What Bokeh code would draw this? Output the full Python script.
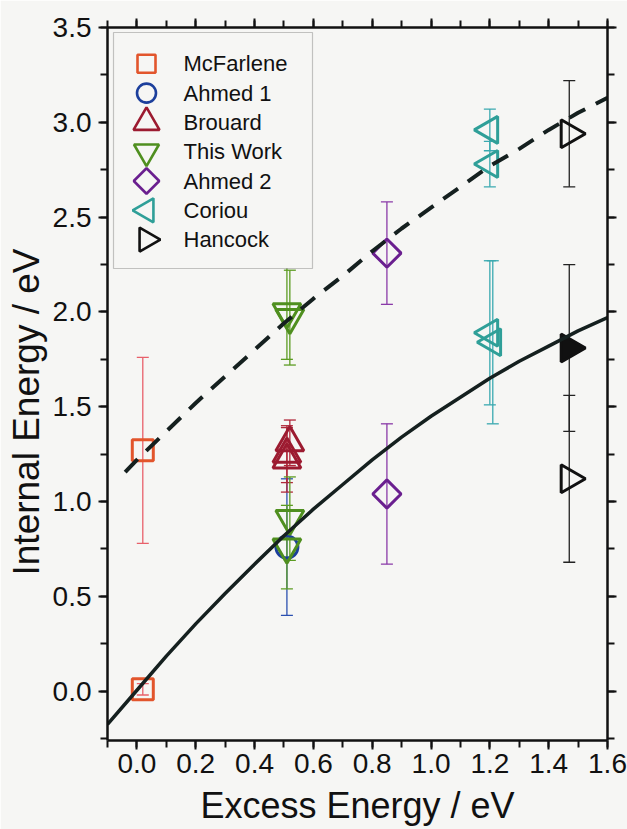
import numpy as np
from bokeh.plotting import figure
from bokeh.models import (ColumnDataSource, Whisker, TeeHead, LinearAxis, Range1d,
                          FixedTicker, BoxAnnotation, Title)
from bokeh.core.properties import value
from bokeh.embed import file_html
from bokeh.resources import INLINE

# ---------------- data ----------------
series_names = ["McFarlene", "Ahmed 1", "Brouard", "This Work", "Ahmed 2", "Coriou", "Hancock"]

mcfarlene_x = [0.02, 0.02]
mcfarlene_y = [1.27, 0.01]
mcfarlene_err = [0.49, 0.03]

ahmed1_x = [0.51]
ahmed1_y = [0.76]
ahmed1_err = [0.36]

brouard_x = [0.52, 0.51, 0.51]
brouard_y = [1.31, 1.25, 1.22]
brouard_err = [0.12, 0.15, 0.17]

thiswork_x = [0.51, 0.52, 0.52, 0.51]
thiswork_y = [2.00, 1.97, 0.91, 0.76]
thiswork_err = [0.25, 0.25, 0.22, 0.22]

ahmed2_x = [0.85, 0.85]
ahmed2_y = [2.31, 1.04]
ahmed2_err = [0.27, 0.37]

coriou_x = [1.20, 1.20, 1.20, 1.21]
coriou_y = [2.96, 2.78, 1.89, 1.84]
coriou_err = [0.11, 0.12, 0.38, 0.43]

hancock_x = [1.47, 1.47, 1.47]
hancock_y = [2.94, 1.81, 1.12]
hancock_err = [0.28, 0.44, 0.44]
hancock_filled = [0, 1, 0]

fit_solid_x = [-0.1, 0.0, 0.1, 0.2, 0.3, 0.4, 0.5, 0.6, 0.7, 0.8, 0.9, 1.0, 1.1, 1.2, 1.3, 1.4, 1.5, 1.6]
fit_solid_y = [-0.175, 0.005, 0.185, 0.355, 0.515, 0.67, 0.82, 0.96, 1.09, 1.22, 1.34, 1.45, 1.55, 1.65, 1.74, 1.82, 1.90, 1.97]

fit_dashed_x = [-0.04, 0.0, 0.1, 0.2, 0.3, 0.4, 0.5, 0.6, 0.7, 0.8, 0.9, 1.0, 1.1, 1.2, 1.3, 1.4, 1.5, 1.6]
fit_dashed_y = [1.155, 1.22, 1.37, 1.52, 1.66, 1.80, 1.94, 2.07, 2.19, 2.32, 2.44, 2.55, 2.66, 2.77, 2.86, 2.96, 3.05, 3.13]

x_ticks = [0.0, 0.2, 0.4, 0.6, 0.8, 1.0, 1.2, 1.4, 1.6]
x_tick_labels = ["0.0", "0.2", "0.4", "0.6", "0.8", "1.0", "1.2", "1.4", "1.6"]
x_minor = [-0.1, 0.0, 0.1, 0.2, 0.3, 0.4, 0.5, 0.6, 0.7, 0.8, 0.9, 1.0, 1.1, 1.2, 1.3, 1.4, 1.5, 1.6]
y_ticks = [0.0, 0.5, 1.0, 1.5, 2.0, 2.5, 3.0, 3.5]
y_tick_labels = ["0.0", "0.5", "1.0", "1.5", "2.0", "2.5", "3.0", "3.5"]
y_minor = [-0.25, 0.0, 0.25, 0.5, 0.75, 1.0, 1.25, 1.5, 1.75, 2.0, 2.25, 2.5, 2.75, 3.0, 3.25, 3.5]

x_title = "Excess Energy / eV"
y_title = "Internal Energy / eV"

# ---------------- layout / style ----------------
W, H = 627, 829
FRAME_L, FRAME_T, FRAME_R, FRAME_B = 107, 27, 607, 740
X0, X1, Y0, Y1 = -0.1, 1.6, -0.26, 3.5
BG = "#f6f6f4"
FONT = "Liberation Sans"

def px2x(px):
    return X0 + (px - FRAME_L) / (FRAME_R - FRAME_L) * (X1 - X0)

def py2y(py):
    return Y1 - (py - FRAME_T) / (FRAME_B - FRAME_T) * (Y1 - Y0)

p = figure(width=W, height=H, x_range=Range1d(X0, X1), y_range=Range1d(Y0, Y1),
           output_backend="svg", toolbar_location=None,
           min_border_left=FRAME_L, min_border_right=W - FRAME_R,
           min_border_top=FRAME_T, min_border_bottom=H - FRAME_B)
p.background_fill_color = BG
p.border_fill_color = BG
p.outline_line_color = None
p.xgrid.visible = False
p.ygrid.visible = False

xt = FixedTicker(ticks=x_ticks, minor_ticks=x_minor)
yt = FixedTicker(ticks=y_ticks, minor_ticks=y_minor)

def style_axis(ax, show_labels):
    ax.axis_line_width = 2.5
    ax.axis_line_color = "#111111"
    ax.major_tick_line_width = 2
    ax.minor_tick_line_width = 2
    ax.major_tick_line_color = "#111111"
    ax.minor_tick_line_color = "#111111"
    ax.major_tick_in = 0
    ax.major_tick_out = 9
    ax.minor_tick_in = 0
    ax.minor_tick_out = 7
    if show_labels:
        ax.major_label_text_font = FONT
        ax.major_label_text_font_size = "28px"
        ax.major_label_text_color = "#111111"
        ax.axis_label_text_font = FONT
        ax.axis_label_text_font_style = "normal"
        ax.axis_label_text_color = "#111111"
    else:
        ax.major_label_text_font_size = "0px"
        ax.major_label_text_color = None

xa = p.xaxis[0]
xa.ticker = xt
xa.major_label_overrides = {t: l for t, l in zip(x_ticks, x_tick_labels)}
xa.axis_label = x_title
style_axis(xa, True)
xa.axis_label_text_font_size = "36px"
xa.major_label_standoff = 4
xa.axis_label_standoff = 9

ya = p.yaxis[0]
ya.ticker = yt
ya.major_label_overrides = {t: l for t, l in zip(y_ticks, y_tick_labels)}
style_axis(ya, True)
ya.major_label_standoff = 7

top = LinearAxis(ticker=xt)
style_axis(top, False)
p.add_layout(top, "above")
right = LinearAxis(ticker=yt)
style_axis(right, False)
p.add_layout(right, "right")

# y-axis title: a side title, started a little above the frame bottom as in the original
p.add_layout(Title(text=y_title, align="left", offset=165, standoff=5,
                   text_font=FONT, text_font_size="37px", text_font_style="normal",
                   text_color="#111111"), "left")

# ---------------- series ----------------
series = [
    dict(name="McFarlene", x=mcfarlene_x, y=mcfarlene_y, e=mcfarlene_err, marker="square", angle=0.0,
         size=21, lsize=18, color="#e2552c", ecolor="#e8606a", fill=[0] * len(mcfarlene_x)),
    dict(name="Ahmed 1", x=ahmed1_x, y=ahmed1_y, e=ahmed1_err, marker="circle", angle=0.0,
         size=22, lsize=19, color="#1c3f9c", ecolor="#2a4fb0", fill=[0]),
    dict(name="Brouard", x=brouard_x, y=brouard_y, e=brouard_err, marker="triangle", angle=0.0,
         size=28, lsize=26, color="#9c1b30", ecolor="#b0283a", fill=[0] * len(brouard_x)),
    dict(name="This Work", x=thiswork_x, y=thiswork_y, e=thiswork_err, marker="inverted_triangle", angle=0.0,
         size=28, lsize=25, color="#4f8f1f", ecolor="#5c9c22", fill=[0] * len(thiswork_x)),
    dict(name="Ahmed 2", x=ahmed2_x, y=ahmed2_y, e=ahmed2_err, marker="square", angle=np.pi / 4,
         size=20, lsize=18, color="#6a1f8f", ecolor="#8a3aa8", fill=[0] * len(ahmed2_x)),
    dict(name="Coriou", x=coriou_x, y=coriou_y, e=coriou_err, marker="triangle", angle=np.pi / 2,
         size=27, lsize=24, color="#2f9f98", ecolor="#3aa9b0", fill=[0] * len(coriou_x)),
    dict(name="Hancock", x=hancock_x, y=hancock_y, e=hancock_err, marker="triangle", angle=-np.pi / 2,
         size=28, lsize=24, color="#111111", ecolor="#222222", fill=hancock_filled),
]

for s in series:
    src = ColumnDataSource(dict(
        x=s["x"], y=s["y"],
        upper=[yy + ee for yy, ee in zip(s["y"], s["e"])],
        lower=[yy - ee for yy, ee in zip(s["y"], s["e"])],
        fa=s["fill"],
    ))
    w = Whisker(source=src, base="x", upper="upper", lower="lower", dimension="height",
                line_color=s["ecolor"], line_width=1.3, level="underlay",
                upper_head=TeeHead(size=12, line_color=s["ecolor"], line_width=1.3),
                lower_head=TeeHead(size=12, line_color=s["ecolor"], line_width=1.3))
    p.add_layout(w)
    p.scatter(x="x", y="y", source=src, marker=s["marker"], angle=s["angle"], size=s["size"],
              line_color=s["color"], line_width=3, fill_color=s["color"], fill_alpha="fa")

# fitted curves
p.line(fit_solid_x, fit_solid_y, line_color="#15201f", line_width=3.5)
p.line(fit_dashed_x, fit_dashed_y, line_color="#15201f", line_width=4, line_dash="18 12")

# ---------------- legend (drawn by hand so rotated markers show correctly) ----------------
LEG_L, LEG_R, LEG_T, LEG_B = 113, 312, 32, 268
ROW0, ROW_STEP, MARK_X, TEXT_X = 63.3, 29.3, 146, 183
p.add_layout(BoxAnnotation(left=px2x(LEG_L), right=px2x(LEG_R), top=py2y(LEG_T), bottom=py2y(LEG_B),
                           fill_color=BG, fill_alpha=1.0, line_color="#444444", line_width=1.2,
                           level="annotation"))
for i, s in enumerate(series):
    ly = py2y(ROW0 + i * ROW_STEP)
    p.scatter(x=[px2x(MARK_X)], y=[ly], marker=s["marker"], angle=s["angle"], size=s["lsize"],
              line_color=s["color"], line_width=2.6, fill_color=None, level="overlay")
p.text(x=[px2x(TEXT_X)] * len(series), y=[py2y(ROW0 + i * ROW_STEP) for i in range(len(series))],
       text=series_names, text_font=value(FONT), text_font_size="22px", text_color="#111111",
       text_baseline="middle", text_align="left", level="overlay")

open("out.html", "w").write(file_html(p, INLINE))
